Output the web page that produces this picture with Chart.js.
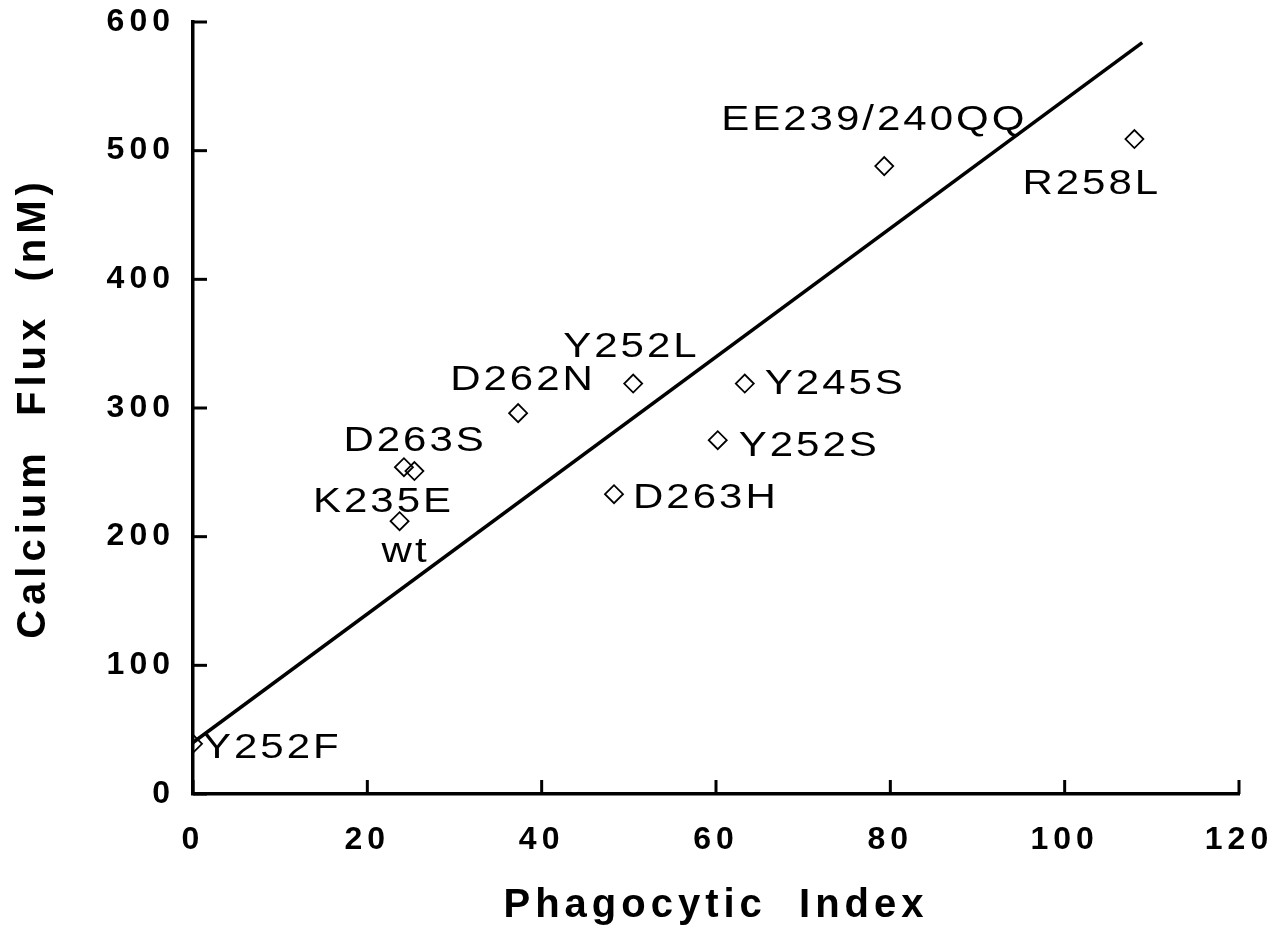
<!DOCTYPE html>
<html>
<head>
<meta charset="utf-8">
<title>Calcium Flux vs Phagocytic Index</title>
<script src="https://cdn.jsdelivr.net/npm/chart.js@4.4.1/dist/chart.umd.min.js"></script>
<style>
  html, body { margin: 0; padding: 0; background: #fff; }
  #chart { display: block; }
</style>
</head>
<body>
<canvas id="chart" width="1280" height="939"></canvas>
<script>
// values
const mutants = ['Y252F', 'wt', 'K235E', 'D263S', 'D262N', 'Y252L', 'D263H', 'Y252S', 'Y245S', 'EE239/240QQ', 'R258L'];
const phagocyticIndex = [0, 23.7, 24.2, 25.4, 37.3, 50.5, 48.3, 60.2, 63.3, 79.3, 108];
const calciumFlux = [39, 212, 254, 251, 296, 319, 233, 275, 319, 488, 509];

// end points of the fitted line
const fitX = [0, 108.9];
const fitY = [40, 584];

const xTickValues = [0, 20, 40, 60, 80, 100, 120];
const yTickValues = [0, 100, 200, 300, 400, 500, 600];

// where each label sits relative to its marker (px: left edge, baseline)
const labelOffsets = [[10, 14], [-18, 41], [-91, 45], [-71, -20], [-68, -23], [-70, -27],
                      [19, 14], [21, 16], [20, 10], [-163, -36], [-112, 55]];

const points = phagocyticIndex.map((x, i) => ({ x: x, y: calciumFlux[i] }));
const fitLine = fitX.map((x, i) => ({ x: x, y: fitY[i] }));

const boldFont = '"Liberation Sans", Arial, sans-serif';

// wide spacing like the original typeset figure
const spacing = {
  id: 'spacing',
  beforeLayout(chart) { chart.ctx.letterSpacing = '5px'; },
  beforeDraw(chart) {
    const ctx = chart.ctx;
    ctx.save();
    ctx.letterSpacing = '0px';
    ctx.fillStyle = '#fff';
    ctx.fillRect(0, 0, chart.width, chart.height);
    ctx.restore();
    ctx.letterSpacing = '5px';
  }
};

// tick marks point into the plot
const inwardTicks = {
  id: 'inwardTicks',
  afterDatasetsDraw(chart) {
    const ctx = chart.ctx;
    const x = chart.scales.x, y = chart.scales.y;
    const len = 14;
    ctx.save();
    ctx.strokeStyle = '#000';
    ctx.lineWidth = 3;
    xTickValues.forEach(v => {
      const px = x.getPixelForValue(v);
      ctx.beginPath();
      ctx.moveTo(px, y.bottom);
      ctx.lineTo(px, y.bottom - len);
      ctx.stroke();
    });
    yTickValues.forEach(v => {
      const py = y.getPixelForValue(v);
      ctx.beginPath();
      ctx.moveTo(x.left, py);
      ctx.lineTo(x.left + len, py);
      ctx.stroke();
    });
    ctx.restore();
  }
};

const pointLabels = {
  id: 'pointLabels',
  afterDatasetsDraw(chart) {
    const ctx = chart.ctx;
    const meta = chart.getDatasetMeta(0);
    ctx.save();
    ctx.font = '35px "Liberation Sans", Arial, sans-serif';
    ctx.letterSpacing = '2.5px';
    ctx.fillStyle = '#000';
    ctx.textAlign = 'left';
    ctx.textBaseline = 'alphabetic';
    meta.data.forEach((pt, i) => {
      const off = labelOffsets[i];
      ctx.save();
      ctx.translate(pt.x + off[0], pt.y + off[1]);
      ctx.scale(1.2, 1);
      ctx.fillText(mutants[i], 0, 0);
      ctx.restore();
    });
    ctx.restore();
  }
};

new Chart(document.getElementById('chart'), {
  type: 'scatter',
  data: {
    datasets: [{
      label: 'Mutants',
      data: points,
      pointStyle: 'rectRot',
      pointRadius: 9,
      pointBorderWidth: 1.8,
      pointBorderColor: '#000',
      pointBackgroundColor: 'rgba(255,255,255,0)'
    }, {
      type: 'line',
      label: 'Fit',
      data: fitLine,
      borderColor: '#000',
      borderWidth: 3.5,
      pointRadius: 0,
      fill: false
    }]
  },
  options: {
    responsive: false,
    animation: false,
    layout: { padding: { left: 0, top: 22, right: 41, bottom: 0 } },
    plugins: {
      legend: { display: false },
      tooltip: { enabled: false }
    },
    scales: {
      x: {
        type: 'linear',
        min: 0,
        max: 120,
        afterBuildTicks: s => { s.ticks = xTickValues.map(v => ({ value: v })); },
        afterFit: s => { s.height = 145; s.paddingLeft = 0; s.paddingRight = 0; },
        grid: { drawOnChartArea: false, drawTicks: false },
        border: { color: '#000', width: 3.5 },
        ticks: {
          color: '#000',
          padding: 27,
          font: { family: boldFont, size: 32, weight: 'bold' }
        },
        title: {
          display: true,
          text: 'Phagocytic  Index',
          color: '#000',
          padding: { top: 0, bottom: 9 },
          font: { family: boldFont, size: 40, weight: 'bold' }
        }
      },
      y: {
        type: 'linear',
        min: 0,
        max: 600,
        afterBuildTicks: s => { s.ticks = yTickValues.map(v => ({ value: v })); },
        afterFit: s => { s.width = 193; s.paddingTop = 0; s.paddingBottom = 0; },
        grid: { drawOnChartArea: false, drawTicks: false },
        border: { color: '#000', width: 3.5 },
        ticks: {
          color: '#000',
          padding: 18,
          font: { family: boldFont, size: 32, weight: 'bold' }
        },
        title: {
          display: true,
          text: 'Calcium  Flux  (nM)',
          color: '#000',
          padding: { top: 10, bottom: 0 },
          font: { family: boldFont, size: 40, weight: 'bold' }
        }
      }
    }
  },
  plugins: [spacing, inwardTicks, pointLabels]
});
</script>
</body>
</html>
